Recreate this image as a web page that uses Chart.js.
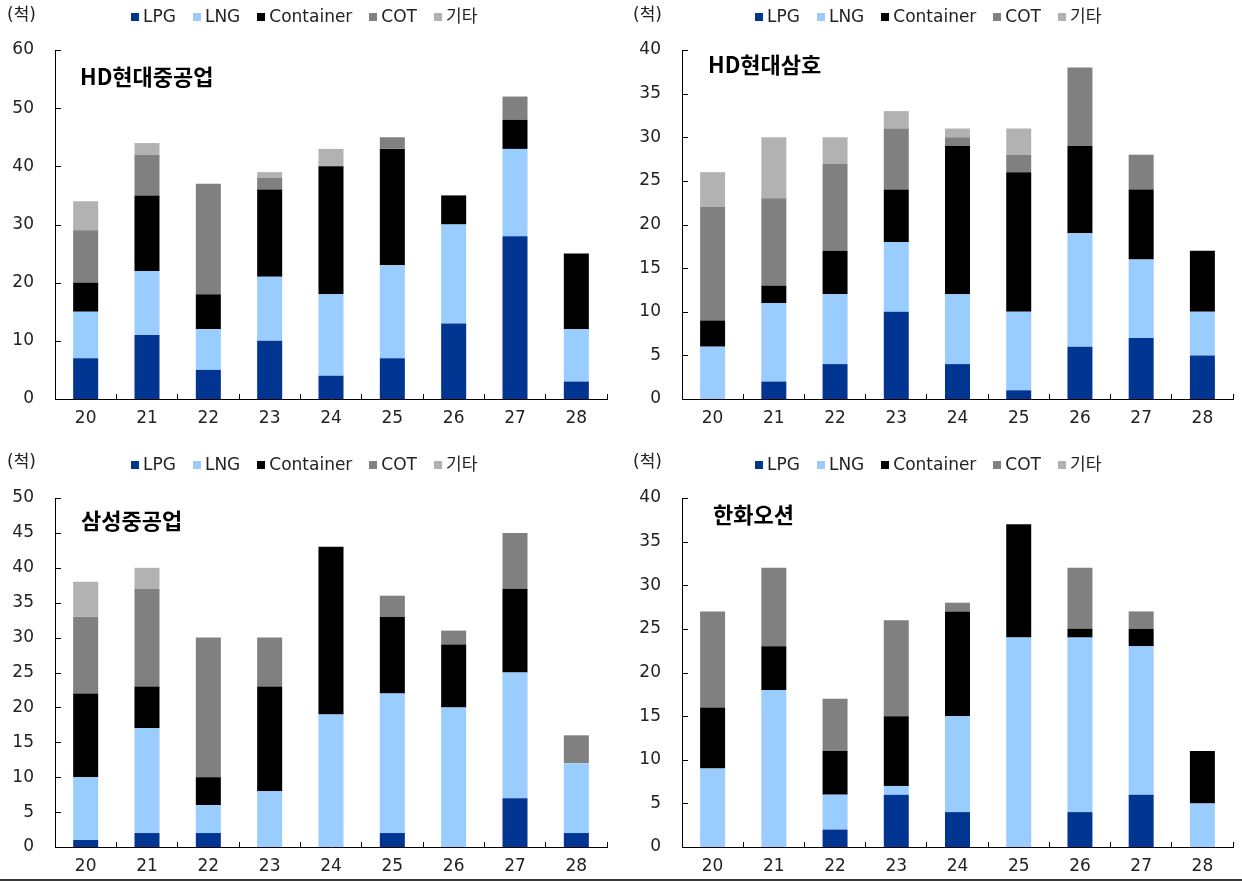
<!DOCTYPE html>
<html><head><meta charset="utf-8">
<script src="https://cdn.jsdelivr.net/npm/chart.js@4"></script>
<style>
body{margin:0;width:1242px;height:882px;position:relative;background:#fff;overflow:hidden;font-family:"DejaVu Sans","Noto Sans CJK KR",sans-serif;color:#222}
canvas{position:absolute}
.unit{position:absolute;font-size:17px;line-height:17px;white-space:nowrap}
.legend{position:absolute;display:flex;align-items:center;font-size:17px;line-height:17px;white-space:nowrap}
.legend .it{display:flex;align-items:center;margin-right:17px}
.legend .sq{width:8px;height:8px;margin-right:4px}
.title{position:absolute;font-family:"Noto Sans CJK KR",sans-serif;font-weight:700;font-size:22px;line-height:22px;color:#000;white-space:nowrap}
.bottomline{position:absolute;left:0;top:879px;width:1242px;height:2px;background:#3a3a3a}
</style></head>
<body>
<canvas id="c1" width="620" height="440" style="left:0;top:0"></canvas>
<canvas id="c2" width="622" height="440" style="left:620px;top:0"></canvas>
<canvas id="c3" width="620" height="442" style="left:0;top:440px"></canvas>
<canvas id="c4" width="622" height="442" style="left:620px;top:440px"></canvas>
<div class="bottomline"></div>
<script>
const categories = ['20','21','22','23','24','25','26','27','28'];
const seriesNames = ['LPG','LNG','Container','COT','기타'];
const seriesColors = ['#003591','#99CCFF','#000000','#808080','#B2B2B2'];
const unitLabel = '(척)';

// HD현대중공업
const hhiLPG       = [7, 11, 5, 10, 4, 7, 13, 28, 3];
const hhiLNG       = [8, 11, 7, 11, 14, 16, 17, 15, 9];
const hhiContainer = [5, 13, 6, 15, 22, 20, 5, 5, 13];
const hhiCOT       = [9, 7, 19, 2, 0, 2, 0, 4, 0];
const hhiEtc       = [5, 2, 0, 1, 3, 0, 0, 0, 0];

// HD현대삼호
const samhoLPG       = [0, 2, 4, 10, 4, 1, 6, 7, 5];
const samhoLNG       = [6, 9, 8, 8, 8, 9, 13, 9, 5];
const samhoContainer = [3, 2, 5, 6, 17, 16, 10, 8, 7];
const samhoCOT       = [13, 10, 10, 7, 1, 2, 9, 4, 0];
const samhoEtc       = [4, 7, 3, 2, 1, 3, 0, 0, 0];

// 삼성중공업
const shiLPG       = [1, 2, 2, 0, 0, 2, 0, 7, 2];
const shiLNG       = [9, 15, 4, 8, 19, 20, 20, 18, 10];
const shiContainer = [12, 6, 4, 15, 24, 11, 9, 12, 0];
const shiCOT       = [11, 14, 20, 7, 0, 3, 2, 8, 4];
const shiEtc       = [5, 3, 0, 0, 0, 0, 0, 0, 0];

// 한화오션
const hanwhaLPG       = [0, 0, 2, 6, 4, 0, 4, 6, 0];
const hanwhaLNG       = [9, 18, 4, 1, 11, 24, 20, 17, 5];
const hanwhaContainer = [7, 5, 5, 8, 12, 13, 1, 2, 6];
const hanwhaCOT       = [11, 9, 6, 11, 1, 0, 7, 2, 0];
const hanwhaEtc       = [0, 0, 0, 0, 0, 0, 0, 0, 0];

const yMaxes = [60, 40, 50, 40];
const yStep = [10, 5, 5, 5];

const insideTicks = {
  id: 'insideTicks',
  afterDraw(chart) {
    const {ctx, chartArea: a, scales: {x, y}} = chart;
    ctx.save();
    ctx.strokeStyle = '#000';
    ctx.lineWidth = 1;
    ctx.beginPath();
    y.ticks.forEach(t => {
      const py = Math.round(y.getPixelForValue(t.value)) + 0.5;
      ctx.moveTo(a.left, py); ctx.lineTo(a.left + 6, py);
    });
    const n = x.ticks.length;
    for (let i = 1; i <= n; i++) {
      const px = Math.floor(i < n ? (x.getPixelForValue(i - 1) + x.getPixelForValue(i)) / 2 : a.right) + 0.5;
      ctx.moveTo(px, a.bottom); ctx.lineTo(px, a.bottom - 5);
    }
    ctx.stroke();
    ctx.restore();
  }
};

function makeChart(id, series, yMax, step, yWidth, padTop, padRight, xHeight) {
  const datasets = series.map((d, i) => ({
    label: seriesNames[i],
    data: d,
    backgroundColor: seriesColors[i],
    borderWidth: 0,
    categoryPercentage: 1,
    barPercentage: 0.408
  }));
  return new Chart(document.getElementById(id), {
    type: 'bar',
    data: {labels: categories, datasets},
    options: {
      responsive: false,
      animation: false,
      events: [],
      layout: {padding: {top: padTop, right: padRight, left: 0, bottom: 0}},
      plugins: {legend: {display: false}, tooltip: {enabled: false}},
      scales: {
        x: {
          stacked: true,
          grid: {display: false, drawTicks: false},
          border: {display: true, color: '#000', width: 1},
          ticks: {font: {family: 'DejaVu Sans', size: 17}, color: '#222', padding: 9, maxRotation: 0},
          afterFit: s => { s.height = xHeight; }
        },
        y: {
          stacked: true,
          min: 0, max: yMax,
          grid: {display: false, drawTicks: false},
          border: {display: true, color: '#000', width: 1},
          ticks: {stepSize: step, font: {family: 'DejaVu Sans', size: 17}, color: '#222', padding: 21},
          afterFit: s => { s.width = yWidth; }
        }
      }
    },
    plugins: [insideTicks]
  });
}

makeChart('c1', [hhiLPG, hhiLNG, hhiContainer, hhiCOT, hhiEtc], yMaxes[0], yStep[0], 55, 50, 13, 41);
makeChart('c2', [samhoLPG, samhoLNG, samhoContainer, samhoCOT, samhoEtc], yMaxes[1], yStep[1], 62, 50, 9, 41);
makeChart('c3', [shiLPG, shiLNG, shiContainer, shiCOT, shiEtc], yMaxes[2], yStep[2], 55, 58, 13, 35);
makeChart('c4', [hanwhaLPG, hanwhaLNG, hanwhaContainer, hanwhaCOT, hanwhaEtc], yMaxes[3], yStep[3], 62, 58, 9, 35);

// text overlays: unit labels, legends, titles
const panels = [
  {unitX: 7,   unitY: 15,  legX: 131, legY: 17,  title: 'HD현대중공업', tX: 80,  tY: 76},
  {unitX: 633, unitY: 15,  legX: 755, legY: 17,  title: 'HD현대삼호',   tX: 708, tY: 64},
  {unitX: 7,   unitY: 462, legX: 131, legY: 465, title: '삼성중공업',   tX: 81,  tY: 520},
  {unitX: 633, unitY: 462, legX: 755, legY: 465, title: '한화오션',     tX: 713, tY: 514}
];
panels.forEach(p => {
  const u = document.createElement('div');
  u.className = 'unit'; u.textContent = unitLabel;
  u.style.left = p.unitX + 'px'; u.style.top = (p.unitY - 9) + 'px';
  document.body.appendChild(u);

  const lg = document.createElement('div');
  lg.className = 'legend';
  lg.style.left = p.legX + 'px'; lg.style.top = (p.legY - 9) + 'px';
  seriesNames.forEach((n, i) => {
    const it = document.createElement('div'); it.className = 'it';
    const sq = document.createElement('span'); sq.className = 'sq'; sq.style.background = seriesColors[i];
    const tx = document.createElement('span'); tx.textContent = n;
    it.appendChild(sq); it.appendChild(tx); lg.appendChild(it);
  });
  document.body.appendChild(lg);

  const t = document.createElement('div');
  t.className = 'title'; t.textContent = p.title;
  t.style.left = p.tX + 'px'; t.style.top = (p.tY - 12) + 'px';
  document.body.appendChild(t);
});
</script>
</body></html>
